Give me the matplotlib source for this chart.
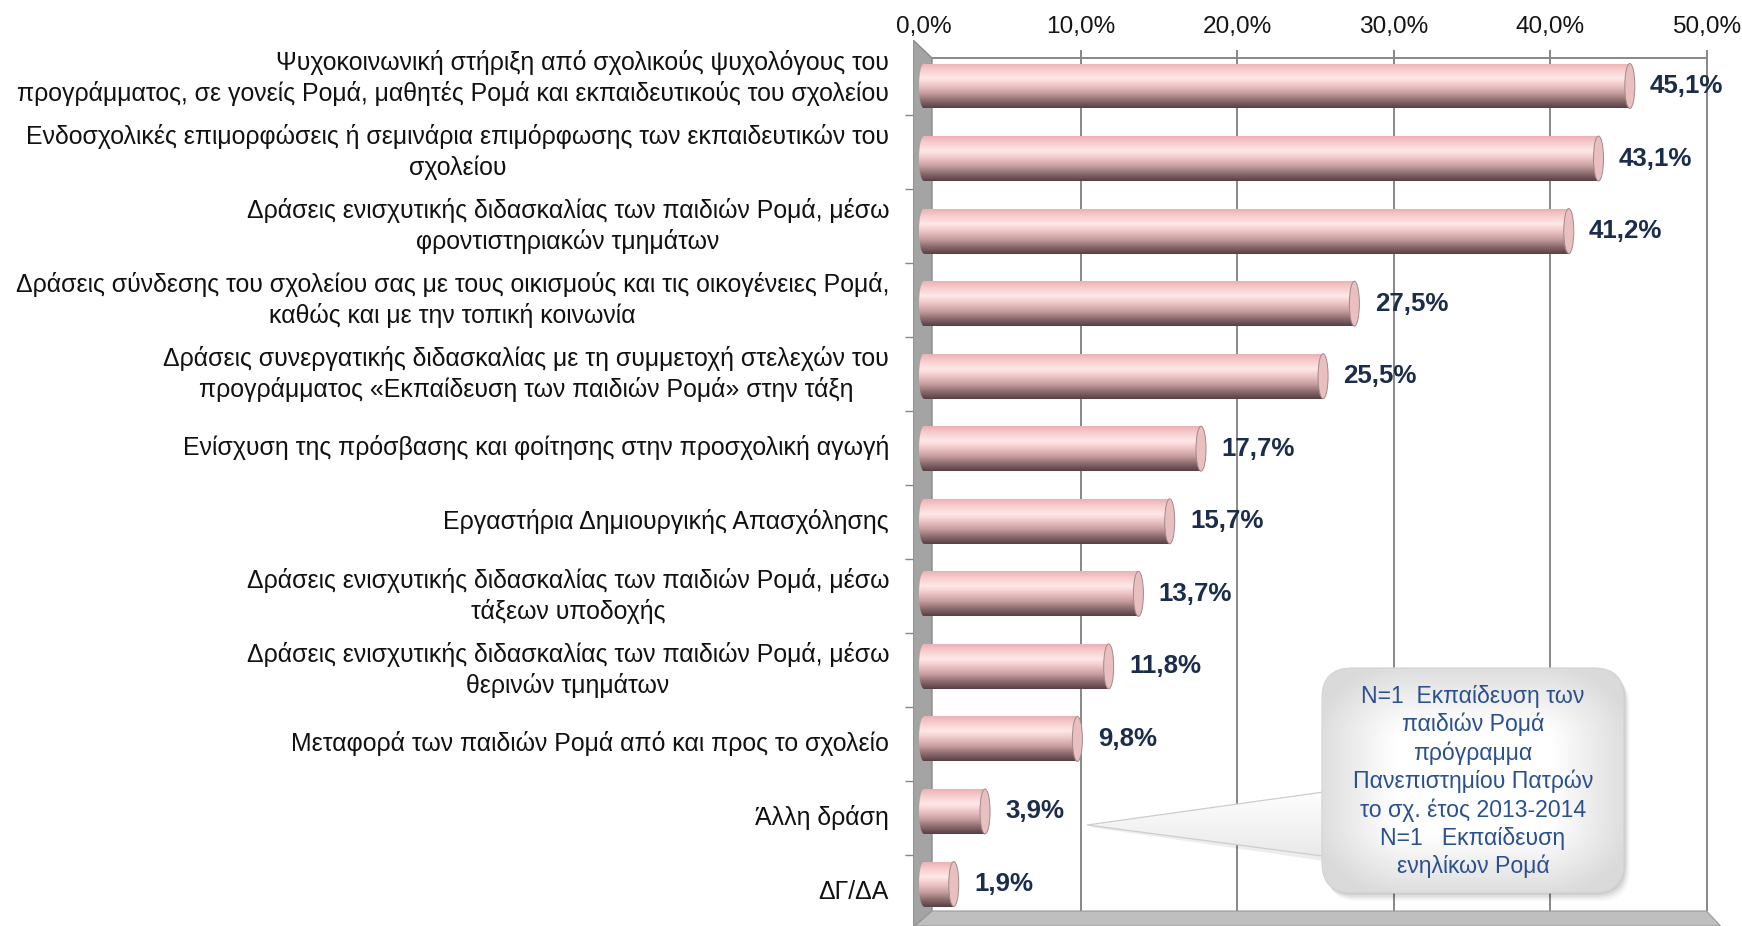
import numpy as np
import matplotlib
matplotlib.use('Agg')
import matplotlib.pyplot as plt
from matplotlib.patches import Polygon, Ellipse, FancyBboxPatch
from matplotlib.colors import to_rgb

# ---------------- data ----------------
categories = [
    "Ψυχοκοινωνική στήριξη από σχολικούς ψυχολόγους του\nπρογράμματος, σε γονείς Ρομά, μαθητές Ρομά και εκπαιδευτικούς του σχολείου",
    "Ενδοσχολικές επιμορφώσεις ή σεμινάρια επιμόρφωσης των εκπαιδευτικών του\nσχολείου",
    "Δράσεις ενισχυτικής διδασκαλίας των παιδιών Ρομά, μέσω\nφροντιστηριακών τμημάτων",
    "Δράσεις σύνδεσης του σχολείου σας με τους οικισμούς και τις οικογένειες Ρομά,\nκαθώς και με την τοπική κοινωνία",
    "Δράσεις συνεργατικής διδασκαλίας με τη συμμετοχή στελεχών του\nπρογράμματος «Εκπαίδευση των παιδιών Ρομά» στην τάξη",
    "Ενίσχυση της πρόσβασης και φοίτησης στην προσχολική αγωγή",
    "Εργαστήρια Δημιουργικής Απασχόλησης",
    "Δράσεις ενισχυτικής διδασκαλίας των παιδιών Ρομά, μέσω\nτάξεων υποδοχής",
    "Δράσεις ενισχυτικής διδασκαλίας των παιδιών Ρομά, μέσω\nθερινών τμημάτων",
    "Μεταφορά των παιδιών Ρομά από και προς το σχολείο",
    "Άλλη δράση",
    "ΔΓ/ΔΑ",
]
values = [45.1, 43.1, 41.2, 27.5, 25.5, 17.7, 15.7, 13.7, 11.8, 9.8, 3.9, 1.9]
value_labels = ["45,1%", "43,1%", "41,2%", "27,5%", "25,5%", "17,7%",
                "15,7%", "13,7%", "11,8%", "9,8%", "3,9%", "1,9%"]
xticks = [0, 10, 20, 30, 40, 50]
xtick_labels = ["0,0%", "10,0%", "20,0%", "30,0%", "40,0%", "50,0%"]
callout_text = ("N=1  Εκπαίδευση των\nπαιδιών Ρομά\nπρόγραμμα\n"
                "Πανεπιστημίου Πατρών\nτο σχ. έτος 2013-2014\n"
                "N=1   Εκπαίδευση\nενηλίκων Ρομά")

# ---------------- style / layout ----------------
plt.rcParams['font.family'] = ['Liberation Sans', 'DejaVu Sans']
W, H, DPI = 1742, 926, 100
fig = plt.figure(figsize=(W / DPI, H / DPI), dpi=DPI)
fig.patch.set_facecolor('white')

X0, SX = 924.0, 15.65     # pixel of 0 % and pixels per 1 %
Y0, SY = 86.0, 72.55      # pixel of first bar centre and pixels per bar row
BY0, BSY = 78.0, 74.0     # back-plane row centre / spacing (labels, ticks)
AX_L, AX_T = 913, 40


def dx(p):
    return (p - X0) / SX


def dy(p):
    return (p - Y0) / SY


ax = fig.add_axes([AX_L / W, 0, (W - AX_L) / W, (H - AX_T) / H])
ax.set_facecolor('none')
for s in ax.spines.values():
    s.set_visible(False)

GRID = '#878787'
ax.vlines(xticks, dy(50), dy(911), color=GRID, lw=1.4, zorder=1)
ax.hlines(dy(58), dx(932), xticks[-1], color=GRID, lw=1.4, zorder=1)

# side wall
wall = Polygon([(dx(913), dy(40)), (dx(932), dy(58)), (dx(932), dy(911)),
                (dx(915), dy(926)), (dx(913), dy(926))],
               closed=True, fc='#a4a4a4', ec='#8a8a8a', lw=1.0, zorder=2)
ax.add_patch(wall)
# floor
floor = Polygon([(dx(932), dy(911)), (xticks[-1], dy(911)),
                 (xticks[-1] + 14 / SX, dy(926)), (dx(915), dy(926))],
                closed=True, fc='#bfbfbf', ec='#9a9a9a', lw=0.8, zorder=2)
ax.add_patch(floor)

# cylinder gradient
stops = [(0.00, '#ebb2b4'), (0.14, '#f7cbcc'), (0.33, '#ffe8e8'),
         (0.50, '#edc4c5'), (0.66, '#caa1a3'), (0.83, '#8d6d70'),
         (1.00, '#573f43')]
n = 200
t = np.linspace(0, 1, n)
pos = [s[0] for s in stops]
cols = np.array([to_rgb(s[1]) for s in stops])
grad = np.stack([np.interp(t, pos, cols[:, k]) for k in range(3)], axis=1)
grad = grad[:, None, :]

BAR_H = 0.62
HW = 0.32  # half width of end caps (in % units)
ypos = np.arange(len(values))
bars = ax.barh(ypos, values, height=BAR_H, left=0, color='none',
               edgecolor='none', zorder=3)
for b, v in zip(bars, values):
    x, y, w, h = b.get_x(), b.get_y(), b.get_width(), b.get_height()
    im = ax.imshow(grad, extent=(x - HW, x + w, y + h, y), aspect='auto',
                   zorder=3, interpolation='bilinear')
    im.set_clip_path(b)
    lcap = Ellipse((x, y + h / 2), 2 * HW, h, fc='none', ec='none', zorder=3)
    ax.add_patch(lcap)
    im2 = ax.imshow(grad, extent=(x - HW, x + HW, y + h, y), aspect='auto',
                    zorder=3, interpolation='bilinear')
    im2.set_clip_path(lcap)
    rcap = Ellipse((x + w, y + h / 2), 2 * HW, h, fc='#e9bfc0',
                   ec='#a08a8b', lw=0.7, zorder=4)
    ax.add_patch(rcap)

# value labels
for i, (v, lab) in enumerate(zip(values, value_labels)):
    ax.annotate(lab, (v + HW, i), xytext=(11, 0), textcoords='offset points',
                ha='left', va='center', fontsize=18.6, fontweight='bold',
                color='#1b2c4c', zorder=6)

# x ticks on top
ax.xaxis.tick_top()
ax.set_xticks(xticks)
ax.set_xticklabels(xtick_labels)
ax.tick_params(axis='x', length=0, pad=1.5, labelsize=17.6, labelcolor='#141414')

# category tick marks on left (back plane grid)
ax.set_yticks([])
ax.set_yticks([dy(BY0 + BSY * (i + 0.5)) for i in range(len(values) - 1)],
              minor=True)
ax.tick_params(axis='y', which='minor', length=5.8, width=1.0, color='#868686',
               direction='out', labelleft=False)

# category labels: fit font size so the widest line matches the reference
renderer = fig.canvas.get_renderer()
probe = ax.text(0, 0, categories[3].split('\n')[0], fontsize=10)
w10 = probe.get_window_extent(renderer).width
probe.remove()
cat_fs = 10 * 878 / w10
label_align = {0: 'right'}
for i, lab in enumerate(categories):
    ax.text(dx(889), dy(BY0 + BSY * i), lab, ha='right', va='center',
            multialignment=label_align.get(i, 'center'),
            fontsize=cat_fs, color='#111111', linespacing=1.3, clip_on=False)

ax.set_xlim(dx(AX_L), dx(W))
ax.set_ylim(dy(H), dy(AX_T))

# ---------------- callout (overlay in pixel space) ----------------
dec = fig.add_axes([0, 0, 1, 1], zorder=5)
dec.set_facecolor('none')
dec.axis('off')

BX, BY, BW, BH, R = 1322, 668, 302, 225, 30
tip = (1087, 825)
wedge_pts = [tip, (1345, 789), (1345, 859)]

# soft shadow
for k, a in [(8, 0.03), (6, 0.045), (4, 0.06), (2, 0.07)]:
    dec.add_patch(FancyBboxPatch((BX + k * 0.7, BY + k), BW, BH,
                                 boxstyle=f"round,pad=0,rounding_size={R}",
                                 fc='black', ec='none', alpha=a, zorder=1))
dec.add_patch(Polygon([(tip[0] + 2, tip[1] + 2), (1345, 792), (1345, 864)],
                      closed=True, fc='black', ec='none', alpha=0.07, zorder=1))

box = FancyBboxPatch((BX, BY), BW, BH, boxstyle=f"round,pad=0,rounding_size={R}",
                     fc='none', ec='#d2d2d2', lw=0.8, zorder=3)
dec.add_patch(box)
wedge = Polygon(wedge_pts, closed=True, fc='none', ec='#cdcdcd', lw=0.9,
                zorder=2.2)
dec.add_patch(wedge)

gx0, gx1, gy0, gy1 = tip[0], BX + BW, BY, BY + BH
gxs = np.linspace(gx0, gx1, 300)
gys = np.linspace(gy0, gy1, 150)
GX, GY = np.meshgrid(gxs, gys)
cx, cy = BX + BW / 2, BY + BH / 2
d = np.sqrt((np.maximum(np.abs(GX - cx) - 60, 0) / (BW / 2 - 60)) ** 2 +
            (np.maximum(np.abs(GY - cy) - 40, 0) / (BH / 2 - 40)) ** 2)
f = np.clip((d - 0.2) / 0.9, 0, 1)
f = np.where(GX < BX, np.clip((GY - 790) / 80, 0, 1) * 0.7, f)
c_in, c_out = np.array(to_rgb('#ffffff')), np.array(to_rgb('#dadada'))
img = c_in[None, None, :] * (1 - f[..., None]) + c_out[None, None, :] * f[..., None]
for patch, z in [(wedge, 2), (box, 2.5)]:
    gi = dec.imshow(img, extent=(gx0, gx1, gy1, gy0), aspect='auto', zorder=z,
                    interpolation='bilinear')
    gi.set_clip_path(patch)
dec.set_xlim(0, W)
dec.set_ylim(H, 0)

dec.text(BX + BW / 2, BY + BH / 2 + 1, callout_text, ha='center', va='center',
         multialignment='center', fontsize=16.6, color='#2a508f',
         linespacing=1.27, zorder=4)

fig.savefig('out.png', dpi=DPI)
